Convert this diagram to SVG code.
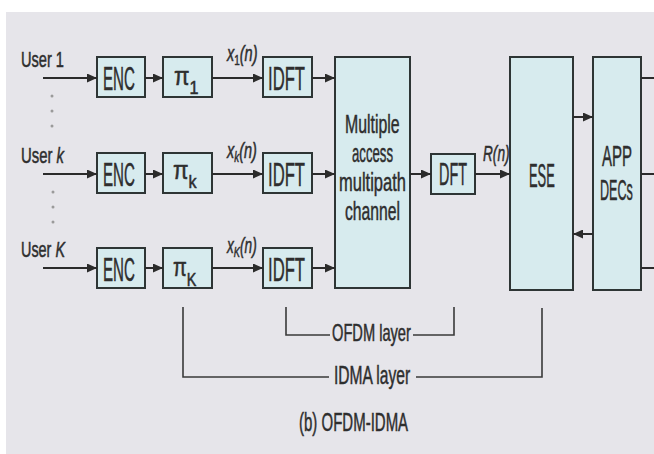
<svg xmlns="http://www.w3.org/2000/svg" width="654" height="454" viewBox="0 0 654 454">
<defs>
<marker id="ah" markerUnits="userSpaceOnUse" markerWidth="10" markerHeight="9" refX="10" refY="4.5" orient="auto">
<path d="M0,0 L10,4.5 L0,9 z" fill="#2b2b2b"/>
</marker>
<style>
.box{fill:#d7ebee;stroke:#2e3535;stroke-width:2}
.t{font-family:"Liberation Sans",Arial,sans-serif;fill:#2e2e2e;stroke:#2e2e2e;stroke-width:0.5}
.ln{stroke:#2b2b2b;stroke-width:2;fill:none}
.ar{stroke:#2b2b2b;stroke-width:2;fill:none;marker-end:url(#ah)}
.br{stroke:#3a3a3a;stroke-width:1.6;fill:none}
.dot{fill:#9a9a9a}
</style>
</defs>
<rect x="0" y="0" width="654" height="454" fill="#ffffff"/>
<rect x="6" y="12" width="648" height="442" fill="#e6e5ea"/>

<g id="labels">
<text class="t" transform="translate(21,67) scale(0.664,1)" font-size="22">User 1</text>
<text class="t" transform="translate(21,163) scale(0.676,1)" font-size="22">User <tspan font-style="italic">k</tspan></text>
<text class="t" transform="translate(21,257) scale(0.655,1)" font-size="22">User <tspan font-style="italic">K</tspan></text>
<circle class="dot" cx="52" cy="96" r="1.5"/>
<circle class="dot" cx="52" cy="111" r="1.5"/>
<circle class="dot" cx="52" cy="126" r="1.5"/>
<circle class="dot" cx="53" cy="192" r="1.5"/>
<circle class="dot" cx="53" cy="207" r="1.5"/>
<circle class="dot" cx="53" cy="222" r="1.5"/>
</g>

<g id="enc1"><rect class="box" x="97" y="57" width="48" height="40"/><text class="t" transform="translate(103,90) scale(0.445,1)" font-size="34">ENC</text></g>
<g id="enc2"><rect class="box" x="97" y="153" width="48" height="40"/><text class="t" transform="translate(103,186) scale(0.445,1)" font-size="34">ENC</text></g>
<g id="enc3"><rect class="box" x="97" y="248" width="48" height="40"/><text class="t" transform="translate(103,281) scale(0.445,1)" font-size="34">ENC</text></g>

<g id="pi1"><rect class="box" x="163" y="57" width="49" height="40"/><text class="t" transform="translate(174,85) scale(0.9,1)" font-size="25">π<tspan font-size="18" dy="9">1</tspan></text></g>
<g id="pi2"><rect class="box" x="163" y="153" width="49" height="40"/><text class="t" transform="translate(173,179) scale(0.9,1)" font-size="25">π<tspan font-size="18" dy="9">k</tspan></text></g>
<g id="pi3"><rect class="box" x="163" y="248" width="49" height="40"/><text class="t" transform="translate(173,276) scale(0.8,1)" font-size="25">π<tspan font-size="18" dy="10">K</tspan></text></g>

<g id="idft1"><rect class="box" x="263" y="57" width="49" height="40"/><text class="t" transform="translate(268,90) scale(0.49,1)" font-size="34">IDFT</text></g>
<g id="idft2"><rect class="box" x="263" y="153" width="49" height="40"/><text class="t" transform="translate(268,186) scale(0.49,1)" font-size="34">IDFT</text></g>
<g id="idft3"><rect class="box" x="263" y="248" width="49" height="40"/><text class="t" transform="translate(268,281) scale(0.49,1)" font-size="34">IDFT</text></g>

<g id="channel"><rect class="box" x="335" y="57" width="75" height="231"/>
<text class="t" transform="translate(345,133) scale(0.61,1)" font-size="26">Multiple</text>
<text class="t" transform="translate(352,162) scale(0.507,1)" font-size="26">access</text>
<text class="t" transform="translate(339,191) scale(0.635,1)" font-size="26">multipath</text>
<text class="t" transform="translate(345,220) scale(0.604,1)" font-size="26">channel</text></g>

<g id="dft"><rect class="box" x="431" y="154" width="44" height="40"/><text class="t" transform="translate(439,185) scale(0.45,1)" font-size="32">DFT</text></g>

<g id="ese"><rect class="box" x="510" y="57" width="63" height="233"/><text class="t" transform="translate(529,187) scale(0.38,1)" font-size="34">ESE</text></g>

<g id="app"><rect class="box" x="593" y="57" width="48" height="233"/>
<text class="t" transform="translate(602,166) scale(0.5,1)" font-size="30">APP</text>
<text class="t" transform="translate(600,200) scale(0.42,1)" font-size="30">DECs</text></g>

<g id="signals">
<text class="t" transform="translate(227,61) scale(0.66,1)" font-size="22"><tspan font-style="italic">x</tspan><tspan font-size="15" dy="4">1</tspan><tspan font-style="italic" dy="-4">(n)</tspan></text>
<text class="t" transform="translate(227,158) scale(0.66,1)" font-size="22"><tspan font-style="italic">x</tspan><tspan font-size="15" font-style="italic" dy="4">k</tspan><tspan font-style="italic" dy="-4">(n)</tspan></text>
<text class="t" transform="translate(227,253) scale(0.62,1)" font-size="22"><tspan font-style="italic">x</tspan><tspan font-size="15" font-style="italic" dy="4">K</tspan><tspan font-style="italic" dy="-4">(n)</tspan></text>
<text class="t" transform="translate(483,161) scale(0.62,1)" font-size="22" font-style="italic">R(n)</text>
</g>

<g id="connectors">
<line class="ar" x1="43" y1="78" x2="97" y2="78"/>
<line class="ar" x1="43" y1="174" x2="97" y2="174"/>
<line class="ar" x1="43" y1="268" x2="97" y2="268"/>
<line class="ar" x1="145" y1="78" x2="163" y2="78"/>
<line class="ar" x1="145" y1="174" x2="163" y2="174"/>
<line class="ar" x1="145" y1="268" x2="163" y2="268"/>
<line class="ar" x1="212" y1="78" x2="263" y2="78"/>
<line class="ar" x1="212" y1="174" x2="263" y2="174"/>
<line class="ar" x1="212" y1="268" x2="263" y2="268"/>
<line class="ar" x1="312" y1="78" x2="335" y2="78"/>
<line class="ar" x1="312" y1="174" x2="335" y2="174"/>
<line class="ar" x1="312" y1="268" x2="335" y2="268"/>
<line class="ar" x1="410" y1="174" x2="431" y2="174"/>
<line class="ar" x1="475" y1="174" x2="510" y2="174"/>
<line class="ar" x1="573" y1="117" x2="593" y2="117"/>
<line class="ar" x1="593" y1="234" x2="573" y2="234"/>
<line class="ln" x1="641" y1="78" x2="654" y2="78"/>
<line class="ln" x1="641" y1="174" x2="654" y2="174"/>
<line class="ln" x1="641" y1="268" x2="654" y2="268"/>
</g>

<g id="layers">
<polyline class="br" points="286,307 286,335 330,335"/>
<polyline class="br" points="413,335 454,335 454,307"/>
<text class="t" transform="translate(332,341) scale(0.637,1)" font-size="23">OFDM layer</text>
<polyline class="br" points="183,307 183,377 329,377"/>
<polyline class="br" points="416,377 542,377 542,308"/>
<text class="t" transform="translate(334,384) scale(0.623,1)" font-size="25">IDMA layer</text>
<text class="t" transform="translate(299,431) scale(0.6,1)" font-size="25">(b) OFDM-IDMA</text>
</g>
</svg>
